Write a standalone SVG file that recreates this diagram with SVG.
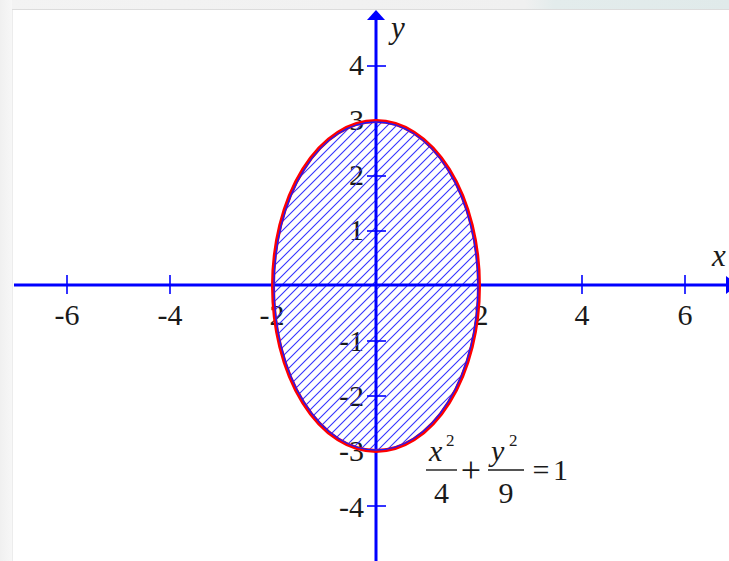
<svg xmlns="http://www.w3.org/2000/svg" width="729" height="561" viewBox="0 0 729 561">
  <defs>
    <linearGradient id="topband" x1="0" y1="0" x2="1" y2="0">
      <stop offset="0" stop-color="#f3f3f3"/>
      <stop offset="0.72" stop-color="#f0f0f0"/>
      <stop offset="0.76" stop-color="#e3ecec"/>
      <stop offset="1" stop-color="#e0eaea"/>
    </linearGradient>
    <linearGradient id="leftband" x1="0" y1="0" x2="1" y2="0">
      <stop offset="0" stop-color="#f0f0f0"/>
      <stop offset="1" stop-color="#f7f7f7"/>
    </linearGradient>
    <pattern id="hatch" patternUnits="userSpaceOnUse" width="9" height="9">
      <path d="M-2,2 L2,-2 M0,9 L9,0 M7,11 L11,7" stroke="#3333ff" stroke-width="1.1"/>
    </pattern>
    <style>
      .axis { stroke: #0000ff; stroke-width: 3; fill: none; }
      .tick { stroke: #0000ff; stroke-width: 1.6; }
      .lbl { font-family: "Liberation Serif", "Times New Roman", serif; font-size: 30px; fill: #1a1a1a; }
      .ylbl { text-anchor: end; }
      .xlbl { text-anchor: middle; }
      .var { font-style: italic; }
      .name { font-size: 31px; }
      .eq { font-family: "Liberation Serif", "Times New Roman", serif; font-size: 30px; fill: #1a1a1a; }
      .op { font-size: 36px; }
      .sup { font-family: "Liberation Serif", "Times New Roman", serif; font-size: 17px; fill: #1a1a1a; }
      .bar { stroke: #1a1a1a; stroke-width: 1.4; }
    </style>
  </defs>

  <g id="background">
    <rect x="0" y="0" width="729" height="561" fill="#ffffff"/>
    <rect x="0" y="0" width="729" height="9" fill="url(#topband)"/>
    <line x1="12" y1="9.5" x2="729" y2="9.5" stroke="#dcdcdc" stroke-width="1"/>
    <rect x="0" y="0" width="12" height="561" fill="url(#leftband)"/>
    <line x1="12.5" y1="10" x2="12.5" y2="561" stroke="#ececec" stroke-width="1"/>
  </g>

  <g id="tick-labels">
    <text class="lbl ylbl" x="364" y="75">4</text>
    <text class="lbl ylbl" x="364" y="130">3</text>
    <text class="lbl ylbl" x="364" y="185">2</text>
    <text class="lbl ylbl" x="364" y="240">1</text>
    <text class="lbl ylbl" x="364" y="351">-1</text>
    <text class="lbl ylbl" x="364" y="406">-2</text>
    <text class="lbl ylbl" x="364" y="461">-3</text>
    <text class="lbl ylbl" x="364" y="517">-4</text>
    <text class="lbl xlbl" x="67" y="325">-6</text>
    <text class="lbl xlbl" x="170" y="325">-4</text>
    <text class="lbl xlbl" x="272" y="325">-2</text>
    <text class="lbl xlbl" x="481" y="325">2</text>
    <text class="lbl xlbl" x="582" y="325">4</text>
    <text class="lbl xlbl" x="685" y="325">6</text>
  </g>

  <g id="region">
    <ellipse cx="376" cy="286" rx="103" ry="165" fill="url(#hatch)"/>
  </g>

  <g id="connectors">
    <line class="axis" x1="14" y1="285" x2="728" y2="285"/>
    <polygon points="726,276 738,285 726,294" fill="#0000ff"/>
    <line class="axis" x1="376" y1="18" x2="376" y2="561"/>
    <polygon points="376,10 367,20 385,20" fill="#0000ff"/>
    <g id="x-ticks">
      <line class="tick" x1="67" y1="275" x2="67" y2="294"/>
      <line class="tick" x1="170" y1="275" x2="170" y2="294"/>
      <line class="tick" x1="273" y1="275" x2="273" y2="294"/>
      <line class="tick" x1="479" y1="275" x2="479" y2="294"/>
      <line class="tick" x1="582" y1="275" x2="582" y2="294"/>
      <line class="tick" x1="685" y1="275" x2="685" y2="294"/>
    </g>
    <g id="y-ticks">
      <line class="tick" x1="367" y1="66" x2="386" y2="66"/>
      <line class="tick" x1="367" y1="121" x2="386" y2="121"/>
      <line class="tick" x1="367" y1="176" x2="386" y2="176"/>
      <line class="tick" x1="367" y1="231" x2="386" y2="231"/>
      <line class="tick" x1="367" y1="341" x2="386" y2="341"/>
      <line class="tick" x1="367" y1="396" x2="386" y2="396"/>
      <line class="tick" x1="367" y1="451" x2="386" y2="451"/>
      <line class="tick" x1="367" y1="506" x2="386" y2="506"/>
    </g>
  </g>

  <g id="ellipse-outline">
    <ellipse cx="376" cy="286" rx="103" ry="165" fill="none" stroke="#ff0000" stroke-width="4"/>
    <ellipse cx="376" cy="286" rx="102" ry="164" fill="none" stroke="#1a1aff" stroke-width="1.4"/>
  </g>

  <g id="axis-names">
    <text class="lbl var name" x="391" y="38">y</text>
    <text class="lbl var name" x="712" y="266">x</text>
  </g>

  <g id="equation">
    <text class="eq var" x="429" y="461">x</text>
    <text class="sup" x="446" y="446">2</text>
    <line class="bar" x1="426" y1="470" x2="457" y2="470"/>
    <text class="eq" x="441.5" y="503" text-anchor="middle">4</text>
    <text class="eq op" x="471" y="482" text-anchor="middle">+</text>
    <text class="eq var" x="491" y="461">y</text>
    <text class="sup" x="509" y="446">2</text>
    <line class="bar" x1="488" y1="470" x2="524" y2="470"/>
    <text class="eq" x="506" y="503" text-anchor="middle">9</text>
    <text class="eq" x="541" y="480" text-anchor="middle">=</text>
    <text class="eq" x="553" y="480">1</text>
  </g>
</svg>
